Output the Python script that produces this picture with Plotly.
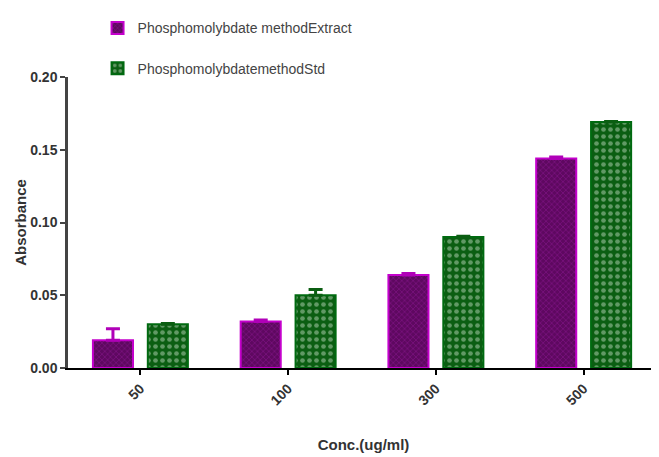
import plotly.graph_objects as go

categories = ["50", "100", "300", "500"]
extract_vals = [0.019, 0.032, 0.064, 0.144]
extract_err = [0.008, 0.001, 0.001, 0.001]
std_vals = [0.030, 0.050, 0.090, 0.169]
std_err = [0.0005, 0.004, 0.0005, 0.0005]
y_ticks = [0.0, 0.05, 0.10, 0.15, 0.20]
y_tick_labels = ["0.00", "0.05", "0.10", "0.15", "0.20"]

font_family = "Liberation Sans, Arial, sans-serif"

fig = go.Figure()
fig.add_trace(go.Bar(
    x=categories, y=extract_vals, name="Phosphomolybdate methodExtract",
    legendgroup="a",
    marker=dict(color="#6c0a70", line=dict(color="#c400cc", width=2),
                pattern=dict(shape="x", fgcolor="#a020a8", bgcolor="#5e0860", size=4, solidity=0.3)),
    error_y=dict(type="data", array=extract_err, symmetric=False, arrayminus=[0]*4,
                 color="#b000b8", thickness=3, width=7),
))
fig.add_trace(go.Bar(
    x=categories, y=std_vals, name="PhosphomolybdatemethodStd",
    legendgroup="b",
    marker=dict(color="#0b5e12", line=dict(color="#006a10", width=2),
                pattern=dict(shape=".", fgcolor="#b8d4b8", bgcolor="#0b5e12", size=7, solidity=0.35)),
    error_y=dict(type="data", array=std_err, symmetric=False, arrayminus=[0]*4,
                 color="#0b5e12", thickness=3, width=7),
))

fig.update_layout(
    width=651, height=449,
    margin=dict(l=60, r=0, t=69, b=89, autoexpand=False),
    paper_bgcolor="white", plot_bgcolor="white",
    barmode="group", bargap=0.257, bargroupgap=0.27,
    font=dict(family=font_family, color="#333333"),
    showlegend=True,
    legend=dict(x=0.05, y=1.222, xanchor="left", yanchor="top",
                font=dict(size=14, color="#444444"),
                tracegroupgap=19, bgcolor="rgba(0,0,0,0)"),
    xaxis=dict(
        range=[-0.49, 3.51], showline=True, linecolor="black", linewidth=2,
        ticks="outside", ticklen=5, tickwidth=2, tickcolor="black",
        tickangle=-45, tickfont=dict(size=14, family=font_family, color="#333333", weight="bold"),
        title=dict(text="<b>Conc.(ug/ml)</b>", font=dict(size=15, color="#333333"), standoff=32),
        showgrid=False, zeroline=False, automargin=False,
    ),
    yaxis=dict(
        range=[0, 0.2], showline=True, linecolor="#444444", linewidth=2.5,
        tickvals=y_ticks, ticktext=y_tick_labels,
        ticks="outside", ticklen=5, tickwidth=2, tickcolor="#444444",
        tickfont=dict(size=14, family=font_family, color="#333333", weight="bold"),
        title=dict(text="<b>Absorbance</b>", font=dict(size=15, color="#333333"), standoff=0),
        showgrid=False, zeroline=False, automargin=False,
    ),
)

fig.write_html("out.html")
